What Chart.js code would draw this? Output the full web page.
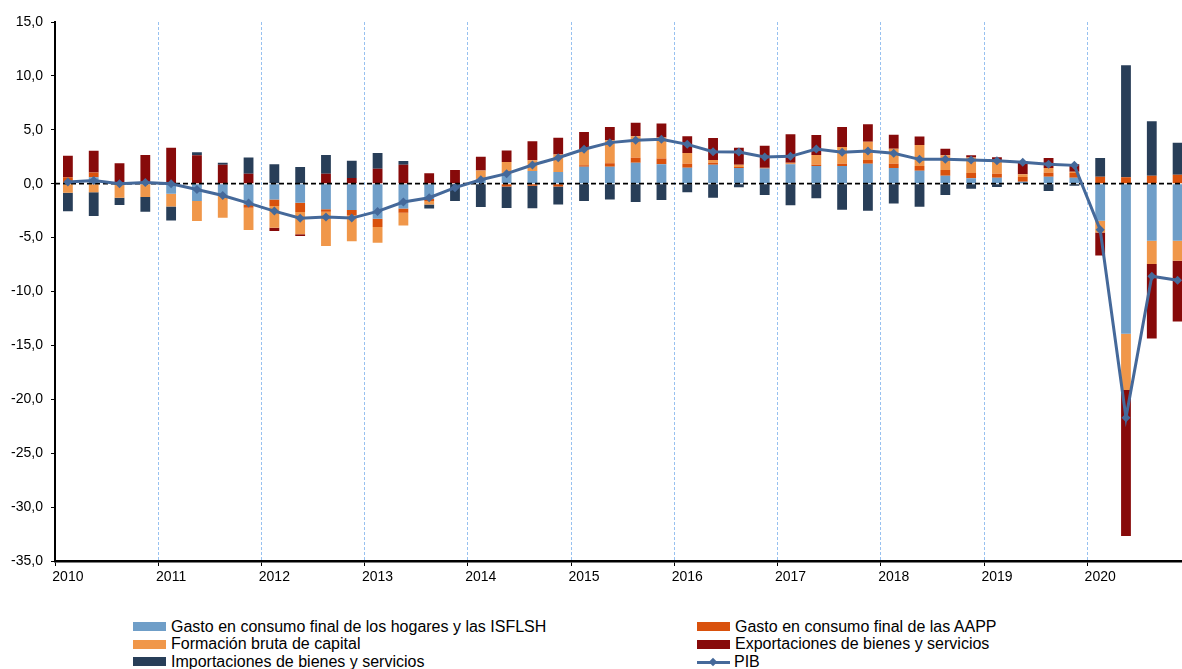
<!DOCTYPE html>
<html lang="es">
<head>
<meta charset="utf-8">
<script src="https://cdn.jsdelivr.net/npm/chart.js@4.4.0/dist/chart.umd.min.js"></script>
<style>
  html, body { margin: 0; padding: 0; overflow: hidden; background: #fff; width: 1182px; height: 669px; }
  #wrap { position: absolute; left: 0; top: 0; width: 1195px; height: 600px; }
  #legend {
    position: absolute; left: 133px; top: 618px;
    display: grid; grid-template-columns: 564px 300px; grid-auto-rows: 17.5px;
    font: 16px "Liberation Sans", Arial, sans-serif; color: #000;
  }
  .item { display: flex; align-items: center; white-space: nowrap; }
  .sw { width: 33px; height: 9px; margin-right: 5px; }
  .ln { position: relative; width: 33px; height: 10px; margin-right: 4px; }
  .ln .bar { position: absolute; left: 0; right: 0; top: 4px; height: 3px; }
  .ln .dot { position: absolute; left: 13px; top: 2px; width: 6px; height: 6px; transform: rotate(45deg); }
</style>
</head>
<body>
<div id="wrap"><canvas id="chart"></canvas></div>
<div id="legend"></div>
<script>
// trimestres 2010 T1 - 2020 T4
const years = ['2010', '2011', '2012', '2013', '2014', '2015', '2016', '2017', '2018', '2019', '2020'];
const quarters = years.flatMap(y => ['T1', 'T2', 'T3', 'T4'].map(q => y + ' ' + q));

// aportaciones al crecimiento interanual (puntos)
const hogares = [0, 0.6, 0, 0, -0.93, -1.61, -1.15, -1.92, -1.46, -1.76, -2.38, -2.45, -3.25, -2.29, -1.42, 0,
  0.4, 0.93, 1.18, 1.08, 1.58, 1.58, 1.95, 1.8, 1.49, 1.76, 1.46, 1.42, 1.8, 1.64, 1.64, 1.86,
  1.46, 1.21, 0.74, 0.5, 0.56, 0.19, 0.65, 0.55, -3.44, -13.93, -5.29, -5.29];
const aapp = [0.6, 0.45, 0, 0, 0, 0, 0, -0.3, -0.62, -0.87, -0.22, -0.5, -0.77, -0.4, -0.19, 0,
  0.05, -0.25, -0.2, -0.25, 0.12, 0.31, 0.46, 0.53, 0.37, 0.19, 0.1, 0.05, 0.05, 0.12, 0.22, 0.34,
  0.4, 0.43, 0.53, 0.5, 0.37, 0.43, 0.37, 0.45, 0.65, 0.59, 0.74, 0.84];
const fbc = [-0.85, -0.8, -1.3, -1.24, -1.18, -1.86, -2.0, -2.07, -2.0, -2.07, -3.19, -2.38, -1.46, -1.18, -0.31, 0,
  0.77, 1.08, 1.0, 1.64, 1.49, 2.14, 2.0, 1.95, 0.99, 0.25, 0.19, 0, 0.1, 0.9, 1.55, 1.7,
  1.39, 1.95, 1.36, 1.42, 1.24, 0.25, 0.43, 0.1, -1.08, -5.2, -2.17, -1.86];
const exportaciones = [2.0, 2.0, 1.9, 2.66, 3.34, 2.63, 1.76, 0.93, -0.31, -0.15, 0.93, 0.53, 1.39, 1.76, 0.96, 1.27,
  1.27, 1.08, 1.76, 1.55, 1.61, 1.24, 1.24, 1.3, 1.55, 2.04, 1.58, 2.04, 2.63, 1.86, 1.86, 1.61,
  1.3, 0.8, 0.62, 0.22, 0.28, 1.18, 0.93, 0.7, -2.14, -13.56, -6.9, -5.63];
const importaciones = [-1.7, -2.2, -0.68, -1.36, -1.3, 0.28, 0.19, 1.49, 1.8, 1.55, 1.73, 1.61, 1.45, 0.34, -0.37, -1.6,
  -2.17, -2.0, -2.07, -1.67, -1.61, -1.46, -1.7, -1.52, -0.8, -1.3, -0.34, -1.05, -2.0, -1.36, -2.41, -2.5,
  -1.83, -2.14, -1.05, -0.46, -0.3, -0.05, -0.68, -0.2, 1.73, 10.4, 5.05, 2.97];
const pib = [0.15, 0.3, 0.0, 0.1, 0.0, -0.53, -1.1, -1.8, -2.54, -3.2, -3.1, -3.19, -2.57, -1.7, -1.3, -0.37,
  0.37, 0.93, 1.73, 2.41, 3.19, 3.81, 4.02, 4.12, 3.65, 2.97, 2.94, 2.48, 2.54, 3.22, 2.91, 3.03,
  2.82, 2.26, 2.26, 2.2, 2.14, 2.0, 1.8, 1.7, -4.27, -21.7, -8.58, -8.95];

const yTicks = [15, 10, 5, 0, -5, -10, -15, -20, -25, -30, -35];

function barSet(label, data, color) {
  return {
    type: 'bar', label: label, data: data, backgroundColor: color,
    stack: 'comp', order: 1, categoryPercentage: 1.0, barPercentage: 0.38
  };
}

// linea discontinua en el cero, por encima de las barras
const zeroLine = {
  id: 'zeroLine',
  beforeDatasetDraw(chart, args) {
    if (args.meta.type !== 'line') return;
    const y = chart.scales.y.getPixelForValue(0);
    const ctx = chart.ctx;
    ctx.save();
    ctx.strokeStyle = '#000';
    ctx.lineWidth = 1.8;
    ctx.setLineDash([5, 3]);
    ctx.beginPath();
    ctx.moveTo(chart.chartArea.left, y);
    ctx.lineTo(chart.chartArea.right, y);
    ctx.stroke();
    ctx.restore();
  }
};

const font = { family: '"Liberation Sans", Arial, sans-serif', size: 14 };

const chart = new Chart(document.getElementById('chart'), {
  data: {
    labels: quarters,
    datasets: [
      barSet('Gasto en consumo final de los hogares y las ISFLSH', hogares, '#6f9ec8'),
      barSet('Gasto en consumo final de las AAPP', aapp, '#d9510c'),
      barSet('Formación bruta de capital', fbc, '#f0974a'),
      barSet('Exportaciones de bienes y servicios', exportaciones, '#870a0a'),
      barSet('Importaciones de bienes y servicios', importaciones, '#283e58'),
      {
        type: 'line', label: 'PIB', data: pib, stack: 'pib', order: 0,
        borderColor: '#45699a', backgroundColor: '#45699a', borderWidth: 3,
        pointStyle: 'rectRot', pointRadius: 4.5, pointBackgroundColor: '#45699a',
        pointBorderWidth: 0, tension: 0
      }
    ]
  },
  options: {
    responsive: true,
    maintainAspectRatio: false,
    animation: false,
    layout: { padding: { left: 0, top: 22, right: 0, bottom: 0 } },
    plugins: {
      legend: { display: false },
      tooltip: { enabled: false },
      title: { display: false }
    },
    scales: {
      x: {
        stacked: true,
        offset: true,
        afterFit: s => { s.height = 39; },
        border: { display: true, color: '#000', width: 2.5, dash: [3, 2] },
        grid: {
          offset: true,
          drawOnChartArea: true,
          lineWidth: 1,
          color: c => (c.index % 4 === 0 && c.index > 0) ? '#97c1f0' : 'rgba(0,0,0,0)',
          tickColor: c => (c.index % 4 === 0) ? '#000' : 'rgba(0,0,0,0)',
          tickLength: 5,
          tickBorderDash: []
        },
        ticks: {
          autoSkip: false, maxRotation: 0, padding: 3, color: '#000', font: font,
          callback: function (v) {
            const lab = this.getLabelForValue(v);
            return lab.endsWith('T1') ? lab.slice(0, 4) : '';
          }
        }
      },
      y: {
        stacked: true,
        min: -35, max: 15,
        afterFit: s => { s.width = 55; },
        afterBuildTicks: s => { s.ticks = yTicks.map(v => ({ value: v })); },
        border: { display: true, color: '#000', width: 2 },
        grid: { drawOnChartArea: false, color: '#000', tickLength: 4 },
        ticks: {
          padding: 8, color: '#000', font: font,
          callback: v => v.toFixed(1).replace('.', ',')
        }
      }
    }
  },
  plugins: [zeroLine]
});

// leyenda en dos columnas, a partir de las series
const legend = document.getElementById('legend');
chart.data.datasets.forEach(ds => {
  const item = document.createElement('div');
  item.className = 'item';
  if (ds.type === 'line') {
    const sw = document.createElement('span');
    sw.className = 'ln';
    sw.innerHTML = '<span class="bar"></span><span class="dot"></span>';
    sw.querySelector('.bar').style.background = ds.borderColor;
    sw.querySelector('.dot').style.background = ds.borderColor;
    item.appendChild(sw);
  } else {
    const sw = document.createElement('span');
    sw.className = 'sw';
    sw.style.background = ds.backgroundColor;
    item.appendChild(sw);
  }
  item.appendChild(document.createTextNode(ds.label));
  legend.appendChild(item);
});
</script>
</body>
</html>
